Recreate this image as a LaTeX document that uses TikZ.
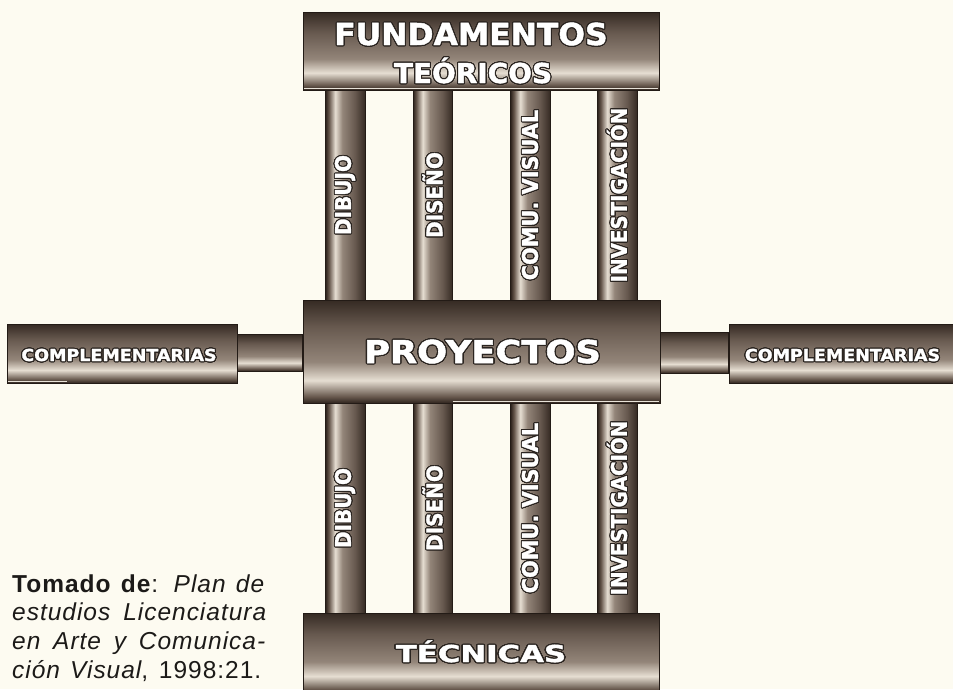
\documentclass[tikz,border=0pt]{standalone}
\usepackage{fontspec}
\usepackage[copies]{contour}
\usetikzlibrary{calc}
\newfontfamily\lblfont{DejaVu Sans Bold}[FakeBold=1.6]
\newfontfamily\citefont{Liberation Sans}[LetterSpace=4]
\definecolor{bgc}{HTML}{FDFBF1}
\definecolor{edge}{HTML}{231B16}
\definecolor{outl}{HTML}{2A2420}
\definecolor{ink}{HTML}{1C1A18}
\definecolor{shA}{HTML}{30251F}
\definecolor{shB}{HTML}{65564B}
\definecolor{shL}{HTML}{E6DED2}
\definecolor{shM}{HTML}{938579}
\definecolor{shU}{HTML}{67594F}
\definecolor{shD}{HTML}{352A23}
\definecolor{hiline}{HTML}{E8E2D8}
\pgfdeclareverticalshading{hbarshade}{100bp}{color(0bp)=(shA); color(25bp)=(shA); color(28bp)=(shB); color(36bp)=(shL); color(45bp)=(shM); color(62bp)=(shU); color(75bp)=(shD); color(100bp)=(shD)}
\pgfdeclarehorizontalshading{vbarshade}{100bp}{color(0bp)=(shA); color(25bp)=(shA); color(29bp)=(shB); color(37bp)=(shL); color(46bp)=(shM); color(62bp)=(shU); color(75bp)=(shD); color(100bp)=(shD)}
\contourlength{1pt}
\contournumber{32}
\begin{document}
\begin{tikzpicture}[x=1pt,y=-1pt,
  hbox/.style={rectangle, shading=hbarshade, draw=edge, line width=1pt, inner sep=0pt},
  pillar/.style={rectangle, shading=vbarshade, draw=edge, line width=1pt, inner sep=0pt,
    minimum width=39.5pt, minimum height=210pt, text=white,
    font=\lblfont\fontsize{21.5}{21.5}\selectfont},
  conn/.style={shading=hbarshade, draw=edge, line width=1pt},
  lbl/.style={inner sep=0pt, text=white, anchor=base,
    font=\lblfont\fontsize{#1}{#1}\selectfont},
  glint/.style={draw=hiline, line width=0.8pt},
  cite/.style={inner sep=0pt, anchor=base west, text=ink,
    font=\citefont\fontsize{24.5}{28}\selectfont}]
\useasboundingbox (0,0) rectangle (953,689);
\fill[bgc] (0,0) rectangle (953,689);

% upper pillars
\node[pillar] (tp1) at (345.5,195) {\rotatebox{90}{\scalebox{0.93}[1]{\contour{outl}{DIBUJO}}}};
\node[pillar] (tp2) at (433,195) {\rotatebox{90}{\scalebox{0.93}[1]{\contour{outl}{DISEÑO}}}};
\node[pillar] (tp3) at (530.5,195) {\rotatebox{90}{\scalebox{0.97}[1]{\contour{outl}{COMU. VISUAL}}}};
\node[pillar] (tp4) at (617.5,195) {\rotatebox{90}{\scalebox{0.92}[1]{\contour{outl}{INVESTIGACIÓN}}}};
% lower pillars
\node[pillar] (bp1) at (345.5,508) {\rotatebox{90}{\scalebox{0.93}[1]{\contour{outl}{DIBUJO}}}};
\node[pillar] (bp2) at (433,508) {\rotatebox{90}{\scalebox{0.93}[1]{\contour{outl}{DISEÑO}}}};
\node[pillar] (bp3) at (530.5,508) {\rotatebox{90}{\scalebox{0.97}[1]{\contour{outl}{COMU. VISUAL}}}};
\node[pillar] (bp4) at (617.5,508) {\rotatebox{90}{\scalebox{0.92}[1]{\contour{outl}{INVESTIGACIÓN}}}};

% main bars
\node[hbox, minimum width=356pt, minimum height=78pt] (fund) at (481,51) {};
\node[hbox, minimum width=357pt, minimum height=103pt] (proy) at (481.5,351.5) {};
\node[hbox, minimum width=356pt, minimum height=81pt] (tec) at (481,653.5) {};
\node[hbox, minimum width=230pt, minimum height=59pt] (cl) at (122,353.5) {};
\node[hbox, minimum width=227pt, minimum height=59pt] (cr) at (842.5,353.5) {};

% thin light lines along lower edges
\draw[glint] ($(fund.south west)+(1.5,-2)$) -- ($(fund.south east)+(-1.5,-2)$);
\draw[glint] ($(proy.south west)+(150,-2)$) -- ($(proy.south east)+(-1.5,-2)$);
\draw[glint] ($(cl.south west)+(1.5,-2)$) -- ($(cl.south west)+(60,-2)$);

% connectors
\path[conn] ($(cl.east)+(0,-19.5)$) rectangle ($(proy.west)+(0,19.5)$);
\path[conn] ($(proy.east)+(0,-19.5)$) rectangle ($(cr.west)+(0,19.5)$);

% labels
\node[lbl=30.2] (lf1) at (471,45) {\scalebox{1.04}[1]{\contour{outl}{FUNDAMENTOS}}};
\node[lbl=27.4] (lf2) at (473,83) {\scalebox{1.02}[1]{\contour{outl}{TEÓRICOS}}};
\node[lbl=31.5] (lp) at (482.5,363) {\scalebox{1.12}[1]{\contour{outl}{PROYECTOS}}};
\node[lbl=23.3] (lt) at (481,662) {\scalebox{1.32}[1]{\contour{outl}{TÉCNICAS}}};
\node[lbl=16.5] (lcl) at (119,361) {\scalebox{1.06}[1]{\contour{outl}{COMPLEMENTARIAS}}};
\node[lbl=16.5] (lcr) at (842.5,361) {\scalebox{1.06}[1]{\contour{outl}{COMPLEMENTARIAS}}};

% citation
\node[cite] (c1) at (12,592) {\makebox[253pt][s]{\textbf{Tomado de}: \textit{Plan de}}};
\node[cite] (c2) at (12,620.7) {\makebox[255pt][s]{\textit{estudios Licenciatura}}};
\node[cite] (c3) at (12,649.4) {\makebox[254pt][s]{\textit{en Arte y Comunica-}}};
\node[cite] (c4) at (12,678) {\makebox[249pt][s]{\textit{ción Visual}, 1998:21.}};
\end{tikzpicture}
\end{document}
